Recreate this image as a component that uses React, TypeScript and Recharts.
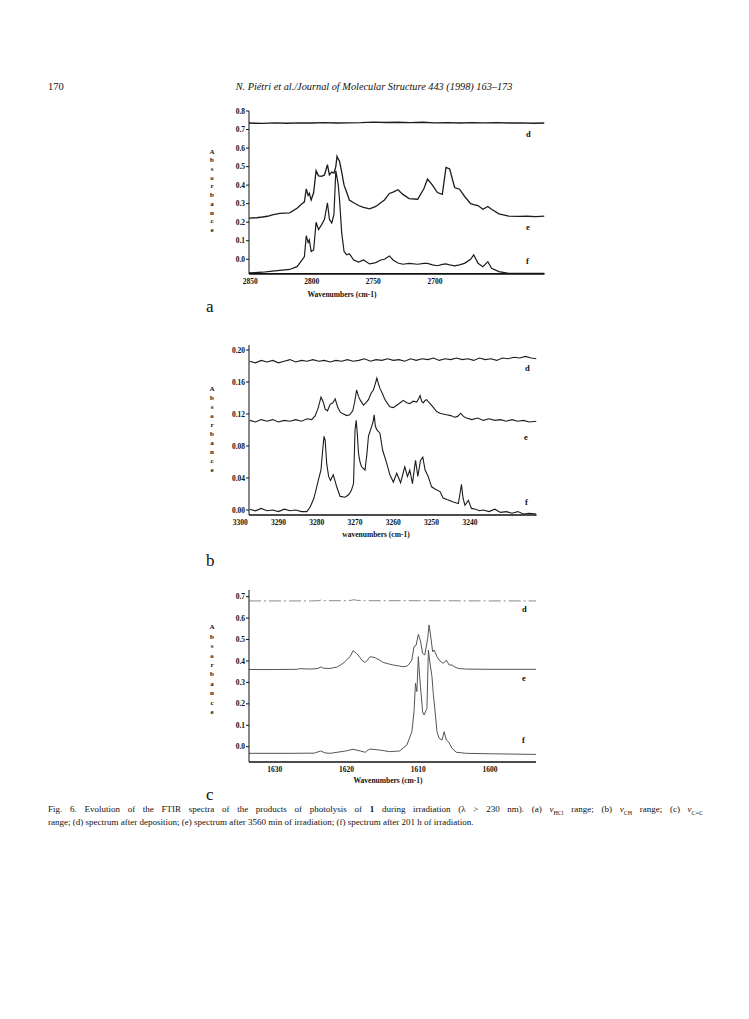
import React from "react";
import { LineChart, Line, XAxis, YAxis } from "recharts";

type Pt = [number, number];

// panel a : HCl range
const aTicksX = [2850, 2800, 2750, 2700];
const aTicksY = [0, 0.1, 0.2, 0.3, 0.4, 0.5, 0.6, 0.7, 0.8];
const aD: Pt[] = [
  [2851, 0.735], [2840, 0.733], [2830, 0.736], [2820, 0.734], [2810, 0.736], [2800, 0.735],
  [2790, 0.737], [2780, 0.735], [2770, 0.736], [2760, 0.737], [2750, 0.74], [2740, 0.738],
  [2730, 0.739], [2720, 0.737], [2710, 0.739], [2700, 0.736], [2690, 0.737], [2680, 0.735],
  [2670, 0.737], [2660, 0.736], [2650, 0.737], [2640, 0.735], [2630, 0.736], [2620, 0.734], [2611, 0.735],
];
const aE: Pt[] = [
  [2851, 0.222], [2845, 0.224], [2840, 0.228], [2836, 0.232], [2832, 0.24], [2826, 0.248], [2818, 0.25],
  [2812, 0.275], [2808, 0.3], [2806, 0.31], [2804.5, 0.38], [2803, 0.345], [2802, 0.356], [2800.5, 0.32],
  [2798.5, 0.36], [2796.5, 0.478], [2794.5, 0.45], [2792, 0.447], [2789.7, 0.455], [2787.3, 0.51],
  [2785.7, 0.455], [2783.8, 0.47], [2782, 0.465], [2780.5, 0.5], [2779.5, 0.556], [2778.5, 0.54],
  [2777.5, 0.53], [2775.7, 0.47], [2773.8, 0.4], [2771.6, 0.36], [2769.5, 0.32], [2766, 0.305],
  [2762, 0.29], [2758, 0.28], [2753, 0.272], [2748, 0.285], [2744, 0.305], [2741, 0.32], [2737, 0.355],
  [2734, 0.362], [2730, 0.375], [2726, 0.35], [2721, 0.327], [2714, 0.324], [2709, 0.38], [2706, 0.433],
  [2702, 0.4], [2698, 0.36], [2694, 0.35], [2691, 0.496], [2688, 0.487], [2684, 0.387], [2680, 0.378],
  [2676, 0.34], [2671, 0.3], [2668.5, 0.295], [2665, 0.29], [2661, 0.27], [2657, 0.285], [2654, 0.27],
  [2648, 0.245], [2640, 0.233], [2632, 0.231], [2625, 0.232], [2618, 0.23], [2611, 0.233],
];
const aF: Pt[] = [
  [2851, -0.074], [2840, -0.07], [2832, -0.064], [2826, -0.06], [2818, -0.055], [2812, -0.04],
  [2808, -0.005], [2806, 0.015], [2804.5, 0.127], [2803, 0.09], [2802, 0.105], [2800.5, 0.042],
  [2798.5, 0.05], [2796.5, 0.2], [2794.5, 0.16], [2792, 0.187], [2789.7, 0.215], [2787.3, 0.305],
  [2785.7, 0.215], [2783.8, 0.196], [2782, 0.242], [2780.5, 0.478], [2779.5, 0.44], [2778.5, 0.4],
  [2777.5, 0.324], [2775.7, 0.142], [2773.8, 0.042], [2771.6, 0.024], [2769.5, 0.03], [2766, -0.004],
  [2762, -0.015], [2758, -0.004], [2753, -0.025], [2748, -0.018], [2744, -0.004], [2741, 0.0],
  [2737, 0.018], [2734, -0.004], [2730, -0.02], [2726, -0.027], [2721, -0.022], [2714, -0.027],
  [2709, -0.022], [2706, -0.022], [2702, -0.03], [2698, -0.035], [2694, -0.028], [2691, -0.025],
  [2688, -0.03], [2684, -0.036], [2680, -0.03], [2676, -0.022], [2671, 0.0], [2668.5, 0.024],
  [2665, -0.022], [2661, -0.04], [2657, -0.013], [2654, -0.049], [2648, -0.067], [2640, -0.076],
  [2625, -0.076], [2611, -0.076],
];

// panel b : CH range
const bTicksX = [3300, 3290, 3280, 3270, 3260, 3250, 3240];
const bTicksY = [0, 0.04, 0.08, 0.12, 0.16, 0.2];
const bD: Pt[] = [
  [3297.5, 0.186], [3296, 0.184], [3294.5, 0.187], [3293, 0.185], [3291.5, 0.187], [3290, 0.184],
  [3288.5, 0.186], [3287, 0.188], [3285.5, 0.185], [3284, 0.187], [3282.5, 0.186], [3281, 0.188],
  [3279.5, 0.186], [3278, 0.187], [3276.5, 0.185], [3275, 0.187], [3273.5, 0.186], [3272, 0.188],
  [3270.5, 0.186], [3269, 0.187], [3267.5, 0.189], [3266, 0.186], [3264.5, 0.188], [3263, 0.187],
  [3261.5, 0.189], [3260, 0.187], [3258.5, 0.188], [3257, 0.186], [3255.5, 0.189], [3254, 0.187],
  [3252.5, 0.189], [3251, 0.188], [3249.5, 0.19], [3248, 0.187], [3246.5, 0.189], [3245, 0.188],
  [3243.5, 0.19], [3242, 0.188], [3240.5, 0.189], [3239, 0.187], [3237.5, 0.19], [3236, 0.188],
  [3234.5, 0.189], [3233, 0.187], [3231.5, 0.19], [3230, 0.189], [3228.5, 0.191], [3227, 0.19],
  [3225.5, 0.192], [3224, 0.19], [3222.6, 0.189],
];
const bE: Pt[] = [
  [3297.5, 0.112], [3296, 0.11], [3294.5, 0.113], [3293, 0.111], [3291.5, 0.113], [3290, 0.11],
  [3288.5, 0.112], [3287, 0.111], [3285.5, 0.113], [3284, 0.111], [3282.5, 0.114], [3281.3, 0.113],
  [3280.4, 0.118], [3279.6, 0.128], [3278.9, 0.141], [3278.3, 0.135], [3277.8, 0.126], [3277.2, 0.124],
  [3276.5, 0.132], [3275.8, 0.134], [3275.2, 0.139], [3274.5, 0.128], [3273.8, 0.122], [3273, 0.12],
  [3272.2, 0.118], [3271.4, 0.119], [3270.6, 0.124], [3270.1, 0.135], [3269.6, 0.15], [3269.1, 0.142],
  [3268.6, 0.137], [3267.8, 0.131], [3267.2, 0.134], [3266.5, 0.138], [3265.8, 0.146], [3265.2, 0.15],
  [3264.7, 0.158], [3264.3, 0.165], [3263.9, 0.158], [3263.5, 0.152], [3262.8, 0.145], [3262.2, 0.138],
  [3261.5, 0.133], [3260.9, 0.129], [3260, 0.128], [3259.1, 0.131], [3258.2, 0.134], [3257.4, 0.137],
  [3256.5, 0.134], [3255.7, 0.133], [3254.8, 0.136], [3253.9, 0.135], [3253.4, 0.139], [3253, 0.143],
  [3252.6, 0.136], [3252.2, 0.134], [3251.7, 0.137], [3251.3, 0.138], [3250.8, 0.135], [3250.4, 0.133],
  [3249.5, 0.128], [3248.7, 0.123], [3247.8, 0.121], [3247, 0.12], [3246.1, 0.119], [3245, 0.118],
  [3244, 0.116], [3243.2, 0.117], [3242.4, 0.121], [3241.7, 0.117], [3240.9, 0.115], [3239.5, 0.113],
  [3238, 0.115], [3236.5, 0.112], [3235, 0.114], [3233.5, 0.112], [3232, 0.113], [3230.5, 0.111],
  [3229, 0.113], [3227.5, 0.111], [3226, 0.112], [3224.5, 0.11], [3222.6, 0.111],
];
const bF: Pt[] = [
  [3297.5, 0.001], [3296, -0.001], [3294.5, 0.002], [3293, -0.001], [3291.5, 0.0], [3290, -0.002],
  [3288.5, 0.001], [3287, -0.001], [3285.5, 0.0], [3284, -0.002], [3282.6, -0.002], [3281.7, 0.004],
  [3280.8, 0.014], [3280.4, 0.021], [3279.6, 0.037], [3278.9, 0.05], [3278.4, 0.078], [3278.1, 0.092],
  [3277.8, 0.087], [3277.4, 0.058], [3276.9, 0.042], [3276.4, 0.037], [3275.7, 0.044], [3275.2, 0.036],
  [3274.8, 0.029], [3273.9, 0.017], [3272.6, 0.016], [3271.7, 0.019], [3271, 0.024], [3270.4, 0.033],
  [3270, 0.1], [3269.7, 0.112], [3269.4, 0.095], [3269.1, 0.071], [3268.7, 0.06], [3268.3, 0.054],
  [3267.4, 0.05], [3266.9, 0.07], [3266.5, 0.092], [3265.7, 0.104], [3265.3, 0.11], [3265, 0.119],
  [3264.7, 0.105], [3264.3, 0.1], [3263.5, 0.096], [3262.8, 0.075], [3261.7, 0.058], [3260.9, 0.044],
  [3260, 0.035], [3259.1, 0.046], [3258.6, 0.04], [3258.1, 0.034], [3257.5, 0.045], [3257, 0.054],
  [3256.3, 0.042], [3255.7, 0.05], [3255, 0.033], [3254.6, 0.048], [3254.2, 0.062], [3253.6, 0.042],
  [3252.9, 0.062], [3252.3, 0.066], [3251.7, 0.05], [3250.9, 0.042], [3250, 0.029], [3249, 0.026],
  [3247.8, 0.023], [3247, 0.015], [3246, 0.013], [3244.3, 0.01], [3243, 0.008], [3242.6, 0.02],
  [3242.2, 0.032], [3241.8, 0.015], [3241.3, 0.006], [3240.4, 0.012], [3239.6, 0.002], [3238.5, 0.001],
  [3237.5, -0.001], [3236.5, 0.0], [3235, -0.002], [3233.5, 0.001], [3232, -0.003], [3230.5, -0.002],
  [3229, -0.004], [3227.5, -0.002], [3226, -0.005], [3224.5, -0.004], [3222.6, -0.005],
];

// panel c : C=C range
const cTicksX = [1630, 1620, 1610, 1600];
const cTicksY = [0, 0.1, 0.2, 0.3, 0.4, 0.5, 0.6, 0.7];
const cD: Pt[] = [
  [1633.6, 0.68], [1628, 0.68], [1625, 0.68], [1623.9, 0.681], [1623.6, 0.684], [1623.2, 0.681],
  [1620, 0.681], [1619.3, 0.683], [1619, 0.686], [1618.6, 0.683], [1617.5, 0.681], [1610, 0.681],
  [1600, 0.68], [1593.6, 0.68],
];
const cE: Pt[] = [
  [1633.6, 0.36], [1630, 0.36], [1627, 0.361], [1626.5, 0.364], [1625, 0.362], [1624, 0.365],
  [1623.6, 0.372], [1623.2, 0.366], [1622.3, 0.365], [1621.3, 0.372], [1620.5, 0.389], [1620, 0.405],
  [1619.5, 0.42], [1619.1, 0.448], [1618.6, 0.435], [1618.1, 0.415], [1617.9, 0.404], [1617.4, 0.393],
  [1617.2, 0.4], [1616.7, 0.42], [1616, 0.415], [1615.3, 0.402], [1614.9, 0.393], [1614, 0.385],
  [1613.5, 0.381], [1612.6, 0.376], [1612.1, 0.373], [1611.6, 0.376], [1611.4, 0.381], [1610.9, 0.404],
  [1610.6, 0.467], [1610.3, 0.474], [1610, 0.524], [1609.7, 0.493], [1609.4, 0.435], [1609.1, 0.428],
  [1608.7, 0.505], [1608.5, 0.568], [1608.3, 0.521], [1608, 0.443], [1607.8, 0.451], [1607.4, 0.42],
  [1607, 0.4], [1606.5, 0.389], [1606.1, 0.404], [1605.7, 0.381], [1605.3, 0.381], [1605, 0.373],
  [1604.4, 0.365], [1603.3, 0.362], [1600, 0.361], [1593.6, 0.361],
];
const cF: Pt[] = [
  [1633.6, -0.031], [1628, -0.031], [1624.5, -0.03], [1623.6, -0.02], [1623, -0.029], [1622.3, -0.031],
  [1620.5, -0.022], [1620, -0.019], [1619.1, -0.012], [1618.1, -0.02], [1617.4, -0.026], [1617, -0.015],
  [1616.7, -0.011], [1615.3, -0.016], [1614, -0.023], [1612.6, -0.02], [1611.6, 0.008], [1610.9, 0.07],
  [1610.6, 0.163], [1610.4, 0.296], [1610.2, 0.257], [1610, 0.42], [1609.8, 0.319], [1609.4, 0.163],
  [1609.2, 0.148], [1608.8, 0.179], [1608.6, 0.45], [1608.4, 0.397], [1608.1, 0.327], [1607.9, 0.24],
  [1607.7, 0.176], [1607.4, 0.07], [1607.1, 0.039], [1606.7, 0.031], [1606.4, 0.07], [1606.1, 0.031],
  [1605.8, 0.023], [1605.6, 0.011], [1605.3, -0.008], [1604.7, -0.026], [1603.3, -0.031], [1600, -0.033],
  [1593.6, -0.036],
];

const serif = "'Liberation Serif', 'DejaVu Serif', serif";
const tickFont = { fontSize: 7.5, fontWeight: 700, fontFamily: serif, fill: "#111" };
const pts = (a: Pt[]) => a.map(([w, v]) => ({ w, v }));

type PanelProps = {
  left: number;
  top: number;
  plotW: number;
  plotH: number;
  xDomain: [number, number];
  yDomain: [number, number];
  xTicks: number[];
  yTicks: number[];
  digits: number;
  series: { pts: Pt[]; stroke: string; width: number; dash?: string }[];
  axisW?: number;
};

function Panel(p: PanelProps) {
  const mL = 40, mT = 6, mR = 4, mB = 22;
  return (
    <div style={{ position: "absolute", left: p.left - mL, top: p.top - mT }}>
      <LineChart
        width={p.plotW + mL + mR}
        height={p.plotH + mT + mB}
        margin={{ top: mT, right: mR, bottom: 0, left: 0 }}
      >
        <XAxis
          type="number"
          dataKey="w"
          domain={p.xDomain}
          reversed
          allowDataOverflow
          ticks={p.xTicks}
          interval={0}
          height={mB}
          tickLine={false}
          tickSize={4}
          tickMargin={1}
          axisLine={{ stroke: "#111", strokeWidth: p.axisW ?? 1.4 }}
          tick={tickFont}
        />
        <YAxis
          type="number"
          domain={p.yDomain}
          allowDataOverflow
          ticks={p.yTicks}
          interval={0}
          width={mL}
          tickSize={3}
          tickMargin={1}
          tickFormatter={(v: number) => v.toFixed(p.digits)}
          axisLine={{ stroke: "#111", strokeWidth: 1 }}
          tickLine={{ stroke: "#111" }}
          tick={tickFont}
        />
        {p.series.map((s, i) => (
          <Line
            key={i}
            data={pts(s.pts)}
            dataKey="v"
            type="linear"
            dot={false}
            stroke={s.stroke}
            strokeWidth={s.width}
            strokeDasharray={s.dash}
            isAnimationActive={false}
          />
        ))}
      </LineChart>
    </div>
  );
}

function Txt(props: { x: number; y: number; children: React.ReactNode; style?: React.CSSProperties }) {
  return (
    <div style={{ position: "absolute", left: props.x, top: props.y, fontFamily: serif, whiteSpace: "nowrap", ...props.style }}>
      {props.children}
    </div>
  );
}

function Absorbance({ x, y, step }: { x: number; y: number; step: number }) {
  return (
    <div style={{ position: "absolute", left: x - 4, top: y - step / 2, width: 8, textAlign: "center", fontFamily: serif, fontWeight: 700, fontSize: 7, lineHeight: `${step}px`, color: "#111" }}>
      {"Absorbance".split("").map((c, i) => (
        <div key={i}>{c}</div>
      ))}
    </div>
  );
}

function AxisTitle({ cx, cy, text }: { cx: number; cy: number; text: string }) {
  return (
    <div style={{ position: "absolute", left: cx - 60, top: cy - 5, width: 120, textAlign: "center", fontFamily: serif, fontWeight: 700, fontSize: 7.5, lineHeight: "10px", color: "#111" }}>
      {text}
    </div>
  );
}

const lab = { fontWeight: 700, fontSize: 8.5, color: "#111" };
const dark = "#1c1c1c";

export default function App() {
  return (
    <div style={{ position: "absolute", left: 0, top: 0, width: 749, height: 1019, background: "#fff", fontFamily: serif, color: "#111" }}>
      <Txt x={48} y={81} style={{ fontSize: 10.5 }}>170</Txt>
      <div style={{ position: "absolute", left: 174, top: 81, width: 400, textAlign: "center", fontFamily: serif, fontStyle: "italic", fontSize: 10.3 }}>
        N. Piétri et al./Journal of Molecular Structure 443 (1998) 163–173
      </div>

      <Panel
        left={248.5}
        top={111.1}
        plotW={295.5}
        plotH={162.9}
        xDomain={[2611, 2851]}
        yDomain={[-0.079, 0.8]}
        xTicks={aTicksX}
        yTicks={aTicksY}
        digits={1}
        axisW={1.8}
        series={[
          { pts: aD, stroke: dark, width: 1.4 },
          { pts: aE, stroke: dark, width: 1.3 },
          { pts: aF, stroke: dark, width: 1.2 },
        ]}
      />
      <Absorbance x={212} y={152} step={8.7} />
      <AxisTitle cx={342} cy={295} text="Wavenumbers (cm-1)" />
      <Txt x={526} y={129} style={lab}>d</Txt>
      <Txt x={526} y={222} style={lab}>e</Txt>
      <Txt x={526} y={256} style={lab}>f</Txt>
      <Txt x={206} y={297} style={{ fontSize: 17 }}>a</Txt>

      <Panel
        left={248.5}
        top={345}
        plotW={287.5}
        plotH={170}
        xDomain={[3222.6, 3297.7]}
        yDomain={[-0.00625, 0.20625]}
        xTicks={bTicksX}
        yTicks={bTicksY}
        digits={2}
        series={[
          { pts: bD, stroke: dark, width: 1.1 },
          { pts: bE, stroke: dark, width: 1.1 },
          { pts: bF, stroke: dark, width: 1.1 },
        ]}
      />
      <Absorbance x={212} y={389} step={9} />
      <AxisTitle cx={376} cy={535} text="wavenumbers (cm-1)" />
      <Txt x={525} y={363} style={lab}>d</Txt>
      <Txt x={524} y={432} style={lab}>e</Txt>
      <Txt x={525} y={497} style={lab}>f</Txt>
      <Txt x={206} y={551} style={{ fontSize: 17 }}>b</Txt>

      <Panel
        left={249}
        top={590}
        plotW={287}
        plotH={172}
        xDomain={[1593.6, 1633.6]}
        yDomain={[-0.0714, 0.731]}
        xTicks={cTicksX}
        yTicks={cTicksY}
        digits={1}
        series={[
          { pts: cD, stroke: "#8a8a8a", width: 1, dash: "12 3 2 3" },
          { pts: cE, stroke: "#555", width: 1 },
          { pts: cF, stroke: "#555", width: 1 },
        ]}
      />
      <Absorbance x={212} y={628} step={9.4} />
      <AxisTitle cx={388} cy={781} text="Wavenumbers (cm-1)" />
      <Txt x={522} y={604} style={lab}>d</Txt>
      <Txt x={522} y={673} style={lab}>e</Txt>
      <Txt x={522} y={735} style={lab}>f</Txt>
      <Txt x={206} y={785} style={{ fontSize: 17 }}>c</Txt>

      <div style={{ position: "absolute", left: 48, top: 803, width: 655, fontFamily: serif, fontSize: 9, lineHeight: "13px", textAlign: "justify", textAlignLast: "justify" }}>
        Fig. 6. Evolution of the FTIR spectra of the products of photolysis of <b>1</b> during irradiation (λ &gt; 230 nm). (a) <i>ν</i>
        <sub style={{ fontSize: 6 }}>HCl</sub> range; (b) <i>ν</i><sub style={{ fontSize: 6 }}>CH</sub> range; (c) <i>ν</i>
        <sub style={{ fontSize: 6 }}>C=C</sub>
      </div>
      <div style={{ position: "absolute", left: 48, top: 816, fontFamily: serif, fontSize: 9, lineHeight: "13px", whiteSpace: "nowrap" }}>
        range; (d) spectrum after deposition; (e) spectrum after 3560 min of irradiation; (f) spectrum after 201 h of irradiation.
      </div>
    </div>
  );
}
